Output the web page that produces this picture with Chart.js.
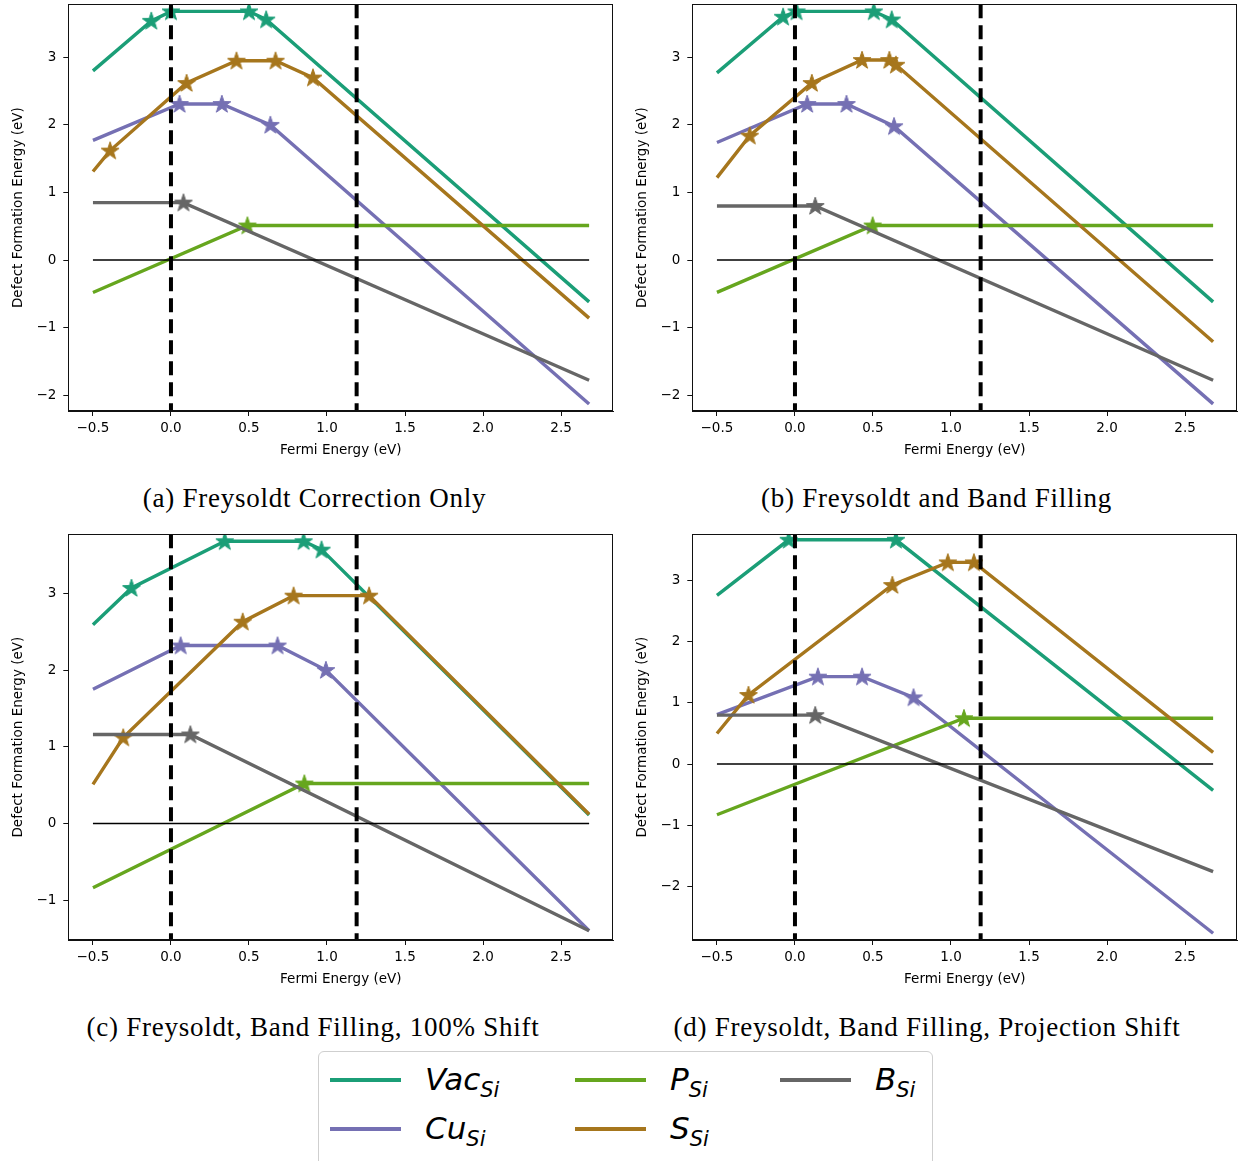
<!DOCTYPE html>
<html>
<head>
<meta charset="utf-8">
<script src="https://cdn.jsdelivr.net/npm/chart.js@4.4.0/dist/chart.umd.min.js"></script>
<style>
    body { margin: 0; background: #fff; width: 1239px; height: 1161px; overflow: hidden; position: relative; }
    .panel { position: absolute; }
    .caption { position: absolute; font-family: 'Liberation Serif', serif; font-size: 27px; line-height: 27px;
               letter-spacing: 0.75px; color: #000; white-space: nowrap; transform: translateX(-50%); }
    .legend { position: absolute; left: 318px; top: 1051px; width: 615px; height: 120px;
              border: 1.3px solid #cfcfcf; border-radius: 6px; background: #fff; box-sizing: border-box; }
    .swatch { position: absolute; width: 71px; height: 4px; }
    .lab { position: absolute; font-family: 'DejaVu Sans', sans-serif; font-style: italic; font-size: 31px;
           line-height: 31px; color: #000; white-space: nowrap; }
    .lab span { font-size: 21px; vertical-align: -7px; }
</style>
</head>
<body>
<canvas id="chartA" class="panel" width="620" height="461" style="left:0px;top:0px"></canvas>
<canvas id="chartB" class="panel" width="615" height="461" style="left:624px;top:0px"></canvas>
<canvas id="chartC" class="panel" width="620" height="461" style="left:0px;top:529px"></canvas>
<canvas id="chartD" class="panel" width="615" height="461" style="left:624px;top:529px"></canvas>
<div id="captions"></div>
<div class="legend" id="legend"></div>
<script>
// Ejes comunes
const xTicks = [-0.5, 0, 0.5, 1, 1.5, 2, 2.5];
const xLimits = [-0.658, 2.835];
const bandEdges = [0, 1.19];
const zeroSpan = [-0.5, 2.68];

const yTicksA = [-2, -1, 0, 1, 2, 3];
const yTicksB = [-2, -1, 0, 1, 2, 3];
const yTicksC = [-1, 0, 1, 2, 3];
const yTicksD = [-2, -1, 0, 1, 2, 3];
const yLimitsA = [-2.235, 3.785];
const yLimitsB = [-2.235, 3.785];
const yLimitsC = [-1.52, 3.77];
const yLimitsD = [-2.88, 3.76];

// Defectos
const seriesNames = ['Vac', 'Cu', 'P', 'S', 'B'];
const seriesColors = ['#1b9e77', '#7570b3', '#66a61e', '#a6761d', '#666666'];

const captions = [
    '(a) Freysoldt Correction Only',
    '(b) Freysoldt and Band Filling',
    '(c) Freysoldt, Band Filling, 100% Shift',
    '(d) Freysoldt, Band Filling, Projection Shift'
];

// (a) Freysoldt
const vacAx = [-0.5, -0.126, 0.0, 0.5, 0.61, 2.68];
const vacAy = [2.80, 3.54, 3.68, 3.68, 3.56, -0.62];
const cuAx = [-0.5, 0.055, 0.326, 0.637, 2.68];
const cuAy = [1.77, 2.31, 2.31, 2.00, -2.13];
const pAx = [-0.5, 0.49, 2.68];
const pAy = [-0.48, 0.51, 0.51];
const sAx = [-0.5, -0.39, 0.10, 0.42, 0.67, 0.91, 2.68];
const sAy = [1.31, 1.62, 2.62, 2.95, 2.95, 2.70, -0.86];
const bAx = [-0.5, 0.08, 2.68];
const bAy = [0.85, 0.85, -1.78];

// (b) Freysoldt + band filling
const vacBx = [-0.5, -0.076, 0.01, 0.505, 0.62, 2.68];
const vacBy = [2.77, 3.60, 3.68, 3.68, 3.56, -0.62];
const cuBx = [-0.5, 0.078, 0.33, 0.635, 2.68];
const cuBy = [1.74, 2.31, 2.31, 1.98, -2.13];
const pBx = [-0.5, 0.498, 2.68];
const pBy = [-0.48, 0.51, 0.51];
const sBx = [-0.5, -0.29, 0.108, 0.43, 0.605, 0.647, 2.68];
const sBy = [1.22, 1.84, 2.62, 2.96, 2.96, 2.89, -1.21];
const bBx = [-0.5, 0.13, 2.68];
const bBy = [0.80, 0.80, -1.78];

// (c) 100% shift
const vacCx = [-0.5, -0.253, 0.345, 0.85, 0.965, 2.68];
const vacCy = [2.59, 3.07, 3.68, 3.68, 3.57, 0.11];
const cuCx = [-0.5, 0.062, 0.683, 0.993, 2.68];
const cuCy = [1.75, 2.32, 2.32, 2.00, -1.40];
const pCx = [-0.5, 0.855, 2.68];
const pCy = [-0.84, 0.52, 0.52];
const sCx = [-0.5, -0.306, 0.46, 0.786, 1.27, 2.68];
const sCy = [0.51, 1.12, 2.63, 2.97, 2.97, 0.12];
const bCx = [-0.5, 0.124, 2.68];
const bCy = [1.16, 1.16, -1.40];

// (d) projection shift
const vacDx = [-0.5, -0.04, 0.647, 2.68];
const vacDy = [2.76, 3.67, 3.67, -0.43];
const cuDx = [-0.5, 0.147, 0.43, 0.76, 2.68];
const cuDy = [0.81, 1.43, 1.43, 1.09, -2.77];
const pDx = [-0.5, 1.083, 2.68];
const pDy = [-0.83, 0.75, 0.75];
const sDx = [-0.5, -0.298, 0.624, 0.98, 1.147, 2.68];
const sDy = [0.50, 1.13, 2.93, 3.30, 3.30, 0.19];
const bDx = [-0.5, 0.13, 2.68];
const bDy = [0.80, 0.80, -1.76];

Chart.defaults.font.family = "'DejaVu Sans', sans-serif";
Chart.defaults.color = '#000';

const minus = s => String(s).replace('-', '\u2212');

// estrella rellena tipo matplotlib '*'
function starImage(color) {
    const c = document.createElement('canvas');
    c.width = 20; c.height = 20;
    const g = c.getContext('2d');
    g.beginPath();
    for (let k = 0; k < 10; k++) {
        const r = k % 2 ? 3.7 : 9.4;
        const a = -Math.PI / 2 + k * Math.PI / 5;
        const px = 10 + r * Math.cos(a), py = 10.6 + r * Math.sin(a);
        if (k === 0) g.moveTo(px, py); else g.lineTo(px, py);
    }
    g.closePath();
    g.fillStyle = color;
    g.fill();
    g.strokeStyle = color;
    g.lineWidth = 1;
    g.stroke();
    return c;
}

// marco completo de los ejes
const framePlugin = {
    id: 'frame',
    afterDatasetsDraw(chart) {
        const a = chart.chartArea;
        const ctx = chart.ctx;
        ctx.save();
        ctx.strokeStyle = '#111';
        ctx.lineWidth = 1;
        ctx.strokeRect(Math.round(a.left) + 0.5, Math.round(a.top) + 0.5,
                       Math.round(a.right - a.left) - 1, Math.round(a.bottom - a.top) - 1);
        ctx.restore();
    }
};

function makePanel(id, xs, ys, yLimits, yTicks, pad) {
    const datasets = [];
    xs.forEach((xArr, i) => {
        const yArr = ys[i];
        const star = starImage(seriesColors[i]);
        datasets.push({
            label: seriesNames[i],
            data: xArr.map((x, j) => ({ x: x, y: yArr[j] })),
            showLine: true,
            borderColor: seriesColors[i],
            backgroundColor: seriesColors[i],
            borderWidth: 3.4,
            pointStyle: star,
            pointRadius: ctx => (ctx.dataIndex === 0 || ctx.dataIndex === xArr.length - 1) ? 0 : 8,
            order: 10 - i
        });
    });
    // linea en cero
    datasets.push({
        data: zeroSpan.map(x => ({ x: x, y: 0 })),
        showLine: true, borderColor: '#000', borderWidth: 1.6, pointRadius: 0, order: 1
    });
    // bordes de banda
    bandEdges.forEach(e => {
        datasets.push({
            data: [{ x: e, y: yLimits[1] }, { x: e, y: yLimits[0] }],
            showLine: true, borderColor: '#000', borderWidth: 4, borderDash: [14, 7],
            pointRadius: 0, order: 0
        });
    });

    return new Chart(document.getElementById(id), {
        type: 'scatter',
        data: { datasets: datasets },
        options: {
            responsive: false,
            animation: false,
            events: [],
            layout: { padding: pad },
            plugins: { legend: { display: false }, tooltip: { enabled: false } },
            scales: {
                x: {
                    type: 'linear',
                    min: xLimits[0],
                    max: xLimits[1],
                    afterBuildTicks: s => { s.ticks = xTicks.map(v => ({ value: v })); },
                    afterFit: s => { s.height = 50; s.paddingLeft = 0; s.paddingRight = 0; },
                    grid: { drawOnChartArea: false, drawTicks: true, tickLength: 5, color: '#111' },
                    border: { display: true, color: '#111', width: 1 },
                    ticks: { color: '#000', font: { size: 13.5 }, padding: 4, maxRotation: 0, autoSkip: false,
                             callback: v => minus(v.toFixed(1)) },
                    title: { display: true, text: 'Fermi Energy (eV)', color: '#000', font: { size: 13.5 },
                             padding: { top: 4, bottom: 2 } }
                },
                y: {
                    type: 'linear',
                    min: yLimits[0],
                    max: yLimits[1],
                    afterBuildTicks: s => { s.ticks = yTicks.map(v => ({ value: v })); },
                    afterFit: s => { s.width = 62.3; s.paddingTop = 0; s.paddingBottom = 0; },
                    grid: { drawOnChartArea: false, drawTicks: true, tickLength: 5, color: '#111' },
                    border: { display: true, color: '#111', width: 1 },
                    ticks: { color: '#000', font: { size: 13.5 }, padding: 7, autoSkip: false,
                             callback: v => minus(v) },
                    title: { display: true, text: 'Defect Formation Energy (eV)', color: '#000',
                             font: { size: 13.5 }, padding: { top: 4, bottom: 4 } }
                }
            }
        },
        plugins: [framePlugin]
    });
}

makePanel('chartA', [vacAx, cuAx, pAx, sAx, bAx], [vacAy, cuAy, pAy, sAy, bAy], yLimitsA, yTicksA,
          { left: 6, right: 6.7, top: 4.3, bottom: 0 });
makePanel('chartB', [vacBx, cuBx, pBx, sBx, bBx], [vacBy, cuBy, pBy, sBy, bBy], yLimitsB, yTicksB,
          { left: 6, right: 1.7, top: 4.3, bottom: 0 });
makePanel('chartC', [vacCx, cuCx, pCx, sCx, bCx], [vacCy, cuCy, pCy, sCy, bCy], yLimitsC, yTicksC,
          { left: 6, right: 6.7, top: 5.3, bottom: 0 });
makePanel('chartD', [vacDx, cuDx, pDx, sDx, bDx], [vacDy, cuDy, pDy, sDy, bDy], yLimitsD, yTicksD,
          { left: 6, right: 1.7, top: 5.3, bottom: 0 });

// Pies de figura
const capPos = [[314.5, 484.7], [936.5, 484.7], [313, 1013.7], [927, 1013.7]];
const capBox = document.getElementById('captions');
captions.forEach((t, i) => {
    const d = document.createElement('div');
    d.className = 'caption';
    d.textContent = t;
    d.style.left = capPos[i][0] + 'px';
    d.style.top = capPos[i][1] + 'px';
    capBox.appendChild(d);
});

// Leyenda (columnas como matplotlib ncol=3)
const legendSlots = [[11, 28], [11, 77], [256, 28], [256, 77], [461, 28]];
const legend = document.getElementById('legend');
seriesNames.forEach((name, i) => {
    const [lx, cy] = legendSlots[i];
    const sw = document.createElement('div');
    sw.className = 'swatch';
    sw.style.background = seriesColors[i];
    sw.style.left = lx + 'px';
    sw.style.top = (cy - 2) + 'px';
    legend.appendChild(sw);
    const lb = document.createElement('div');
    lb.className = 'lab';
    lb.innerHTML = name + '<span>Si</span>';
    lb.style.left = (lx + 95) + 'px';
    lb.style.top = (cy - 16) + 'px';
    legend.appendChild(lb);
});
</script>
</body>
</html>
